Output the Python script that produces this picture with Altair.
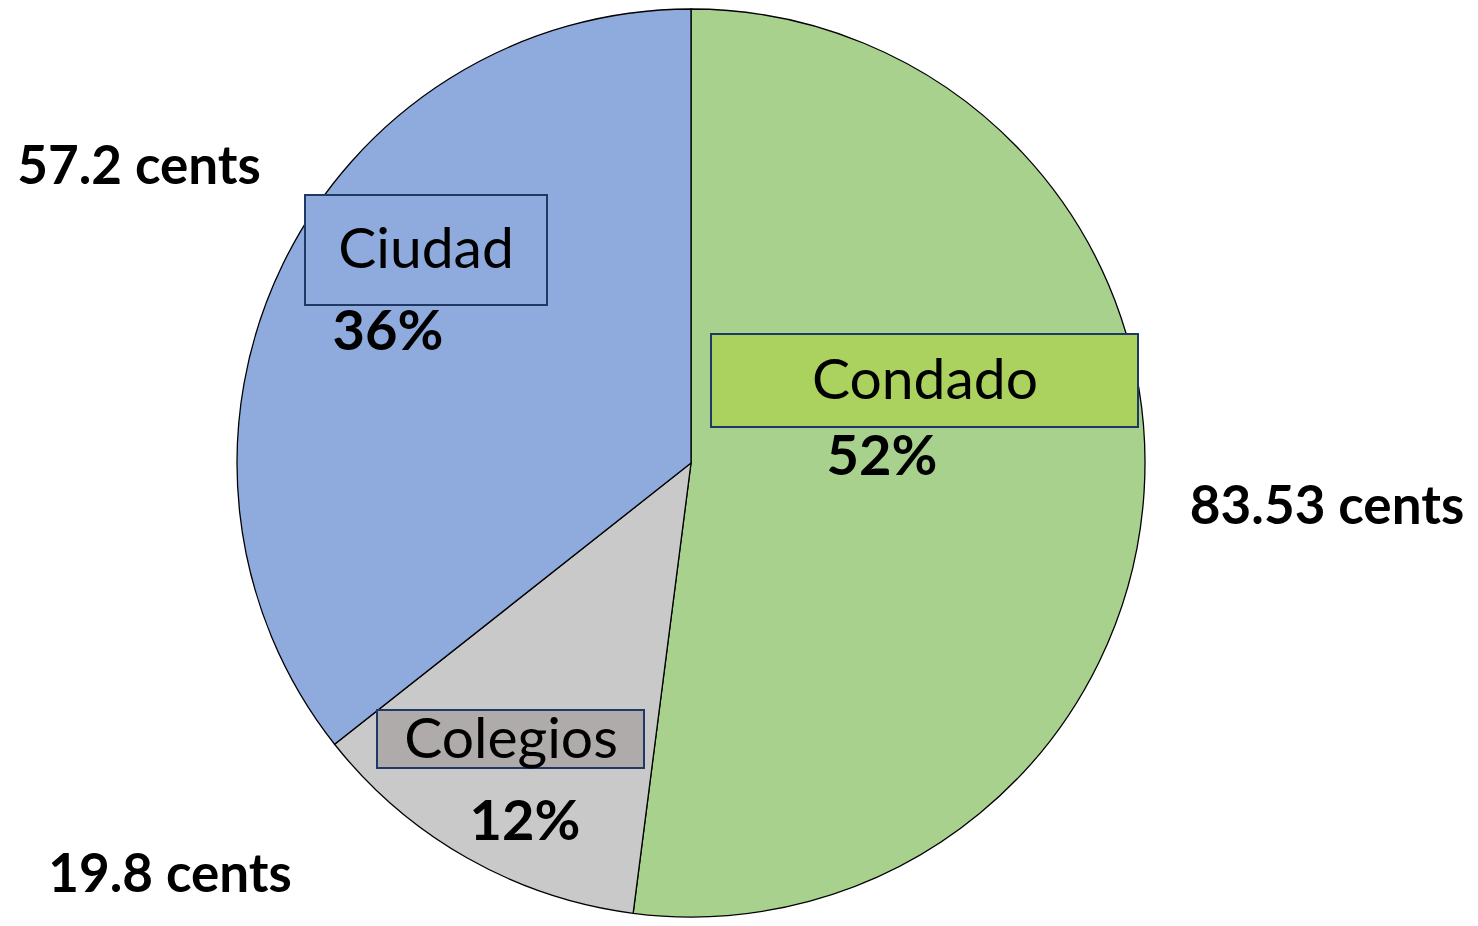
import altair as alt
import pandas as pd

# ---- data ----
categorias = ["Condado", "Colegios", "Ciudad"]
valores = [83.53, 19.8, 57.2]
orden = [0, 1, 2]
colores_sector = ["#A9D18E", "#C9C9C9", "#8FAADC"]
colores_caja = ["#ABD15E", "#AFABAB", "#8FAADC"]

# ---- layout (pixels, relative to pie centre) ----
CX, CY, R = 683, 455, 454
FONT = "Lato"
FS_NAME, FS_PCT, FS_VAL = 57, 56, 53
layout = {
    "Condado": dict(box=(20, 447, -129, -36), name=(234, -81), pct=(191, -5), val=(636, 45)),
    "Colegios": dict(box=(-314, -47, 247, 305), name=(-180, 278), pct=(-166, 360), val=(-521, 413)),
    "Ciudad": dict(box=(-386, -144, -268, -158), name=(-265, -212), pct=(-303, -130), val=(-552, -295)),
}

total = sum(valores)
rows = []
for c, v, o, cs, cc in zip(categorias, valores, orden, colores_sector, colores_caja):
    L = layout[c]
    rows.append(dict(
        categoria=c, valor=v, orden=o,
        pct=f"{round(v / total * 100)}%",
        val_txt=f"{v:g} cents",
        bx=CX + L["box"][0], bx2=CX + L["box"][1],
        by=CY + L["box"][2], by2=CY + L["box"][3],
        nx=CX + L["name"][0], ny=CY + L["name"][1],
        px=CX + L["pct"][0], py=CY + L["pct"][1],
        vx=CX + L["val"][0], vy=CY + L["val"][1],
        caja=cc,
    ))
df = pd.DataFrame(rows)

pie = alt.Chart(df).mark_arc(radius=R, stroke="#000000", strokeWidth=1.3).encode(
    theta=alt.Theta("valor:Q", stack=True),
    order=alt.Order("orden:Q"),
    color=alt.Color("categoria:N", scale=alt.Scale(domain=categorias, range=colores_sector), legend=None),
    x=alt.value(CX),
    y=alt.value(CY),
)

boxes = alt.Chart(df).mark_rect(stroke="#203864", strokeWidth=2).encode(
    x=alt.X("bx:Q", scale=None), x2="bx2:Q",
    y=alt.Y("by:Q", scale=None), y2="by2:Q",
    fill=alt.Fill("caja:N", scale=None),
)

names = alt.Chart(df).mark_text(font=FONT, fontSize=FS_NAME, color="#000000", baseline="middle", align="center").encode(
    x=alt.X("nx:Q", scale=None), y=alt.Y("ny:Q", scale=None), text="categoria:N"
)
pcts = alt.Chart(df).mark_text(font=FONT, fontSize=FS_PCT, fontWeight="bold", color="#000000", baseline="middle", align="center").encode(
    x=alt.X("px:Q", scale=None), y=alt.Y("py:Q", scale=None), text="pct:N"
)
vals = alt.Chart(df).mark_text(font=FONT, fontSize=FS_VAL, fontWeight="bold", color="#000000", baseline="middle", align="center").encode(
    x=alt.X("vx:Q", scale=None), y=alt.Y("vy:Q", scale=None), text="val_txt:N"
)

chart = alt.layer(pie, boxes, names, pcts, vals).properties(
    width=1462, height=910, autosize=alt.AutoSizeParams(type="none"), padding=0
).configure_view(stroke=None)

chart.save("out.html", embed_options={"renderer": "svg", "actions": False})
